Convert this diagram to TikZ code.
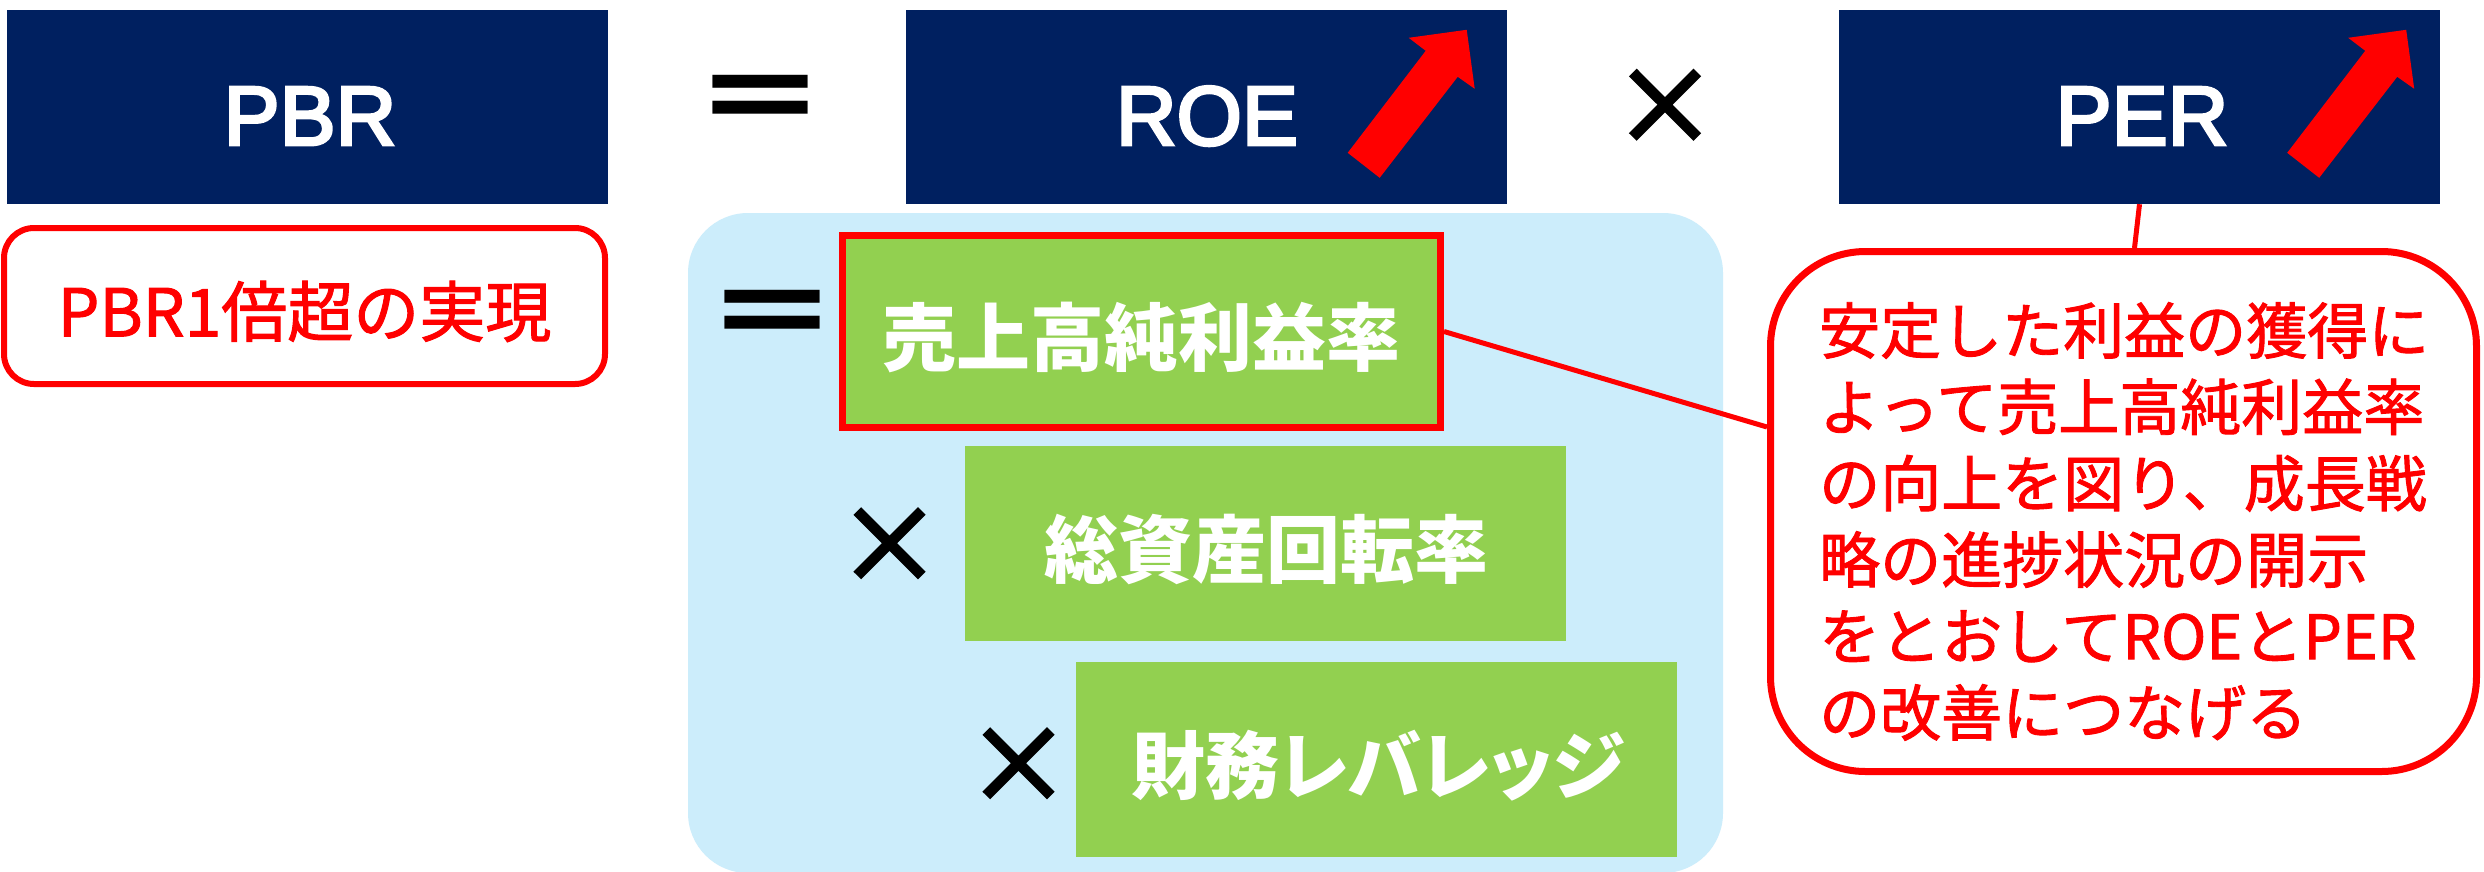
\documentclass[tikz,border=0pt]{standalone}
\usepackage{fontspec}
\setmainfont{Noto Sans CJK JP}
\newfontfamily\latf{Liberation Sans}[FakeBold=3.5]
\newfontfamily\opf{Noto Sans CJK JP}[FakeBold=3.5]
\newfontfamily\redf{Noto Sans CJK JP}[FakeBold=1.5]
\definecolor{navy}{HTML}{002060}
\definecolor{leaf}{HTML}{92D050}
\definecolor{sky}{RGB}{204,237,251}
\definecolor{brred}{HTML}{FF0000}
\tikzset{
  navybox/.style={fill=navy, draw=none, minimum width=601pt, minimum height=194pt, inner sep=0pt},
  navytxt/.style={text=white, font=\latf\fontsize{84}{84}\selectfont, inner sep=0pt, anchor=base},
  greenbox/.style={fill=leaf, draw=none, minimum width=601pt, minimum height=195pt, inner sep=0pt},
  greentxt/.style={text=white, font=\bfseries\fontsize{74}{74}\selectfont, inner sep=0pt},
  eqtxt/.style={text=black, inner sep=0pt, font=\bfseries\fontsize{100}{100}\selectfont},
  timestxt/.style={text=black, inner sep=0pt, font=\opf\fontsize{104}{104}\selectfont},
  redline/.style={draw=brred, line width=5pt},
  risearrow/.pic={
    \fill[brred] (-159,143) -- (-81,41) -- (-98,28) -- (-40,20) -- (-32,79) -- (-49,67) -- (-127,168) -- cycle;
  }
}
\begin{document}
\begin{tikzpicture}[x=1pt,y=-1pt]
\useasboundingbox (0,0) rectangle (2484,871);
\fill[white] (0,0) rectangle (2484,871);

% light blue panel
\node[fill=sky, rounded corners=60pt, minimum width=1035pt, minimum height=660pt, inner sep=0pt] (panel) at (1205.5,543) {};

% top row
\node[navybox] (pbr) at (307.5,107) {};
\node[navytxt] (pbrt) at (310,145) {PBR};
\node[eqtxt] (eq1) at (760.5,106.5) {\scalebox{1.36}[1.08]{＝}};
\node[navybox] (roe) at (1206,107) {};
\node[navytxt] (roet) at (1207,145) {ROE};
\pic at (roe.north east) {risearrow};
\node[timestxt] (times1) at (1665,107.5) {×};
\node[navybox] (per) at (2139.5,107) {};
\node[navytxt] (pert) at (2142,145) {PER};
\pic at ([xshift=6pt]per.north east) {risearrow};

% goal box
\node[draw=brred, line width=6pt, rounded corners=30pt, fill=white, minimum width=601pt, minimum height=156pt, inner sep=0pt] (goal) at (304.5,306) {};
\node[text=brred, inner sep=0pt, font=\redf\fontsize{66}{66}\selectfont] (goalt) at (304.5,311.5) {PBR1倍超の実現};

% decomposition
\node[eqtxt] (eq2) at (772.5,321) {\scalebox{1.36}[1.08]{＝}};
\node[greenbox, draw=brred, line width=7pt, minimum width=598pt, minimum height=192pt] (sales) at (1141.5,331.5) {};
\node[greentxt] (salest) at (1141,337) {売上高純利益率};
\node[timestxt] (times2) at (889.5,546) {×};
\node[greenbox] (assets) at (1265.5,543.5) {};
\node[greentxt] (assetst) at (1266,549) {総資産回転率};
\node[timestxt] (times3) at (1018.5,766) {×};
\node[greenbox] (lev) at (1376.5,759.5) {};
\node[greentxt] (levt) at (1378,766) {\addfontfeatures{RawFeature=+palt}財務レバレッジ};

% callout
\node[draw=brred, line width=7pt, rounded corners=95pt, fill=white, minimum width=706pt, minimum height=520pt, inner sep=0pt] (callout) at (2123.5,511.5) {};
\node[text=brred, inner sep=0pt, anchor=north west, align=left, font=\redf\fontsize{61}{76.4}\selectfont] (calloutt) at (1819,302)
  {安定した利益の獲得に\\よって売上高純利益率\\の向上を図り、成長戦\\略の進捗状況の開示\\をとおしてROEとPER\\の改善につなげる};

% connectors
\draw[redline] (per.south) -- ([xshift=-5pt]per.south |- callout.north);
\draw[redline] (sales.east) -- ([yshift=84.5pt]callout.west);
\end{tikzpicture}
\end{document}
